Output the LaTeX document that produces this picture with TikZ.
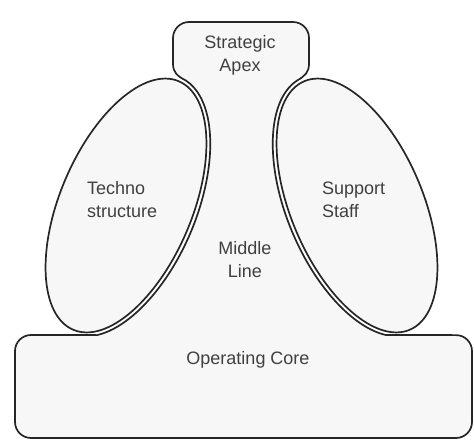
\documentclass[tikz,border=0pt]{standalone}
\usepackage{fontspec}
\setmainfont{Liberation Sans}
\tikzstyle{part} = [draw=black!85, line width=1.7pt, fill=black!3]
\tikzstyle{lbl} = [font={\fontsize{18}{23}\selectfont}, text=black!75, align=left, inner sep=0pt]

\begin{document}
\begin{tikzpicture}[x=1pt,y=1pt]
  \useasboundingbox (0,0) rectangle (474,440);
  % core, middle line and apex as one outline
  \draw[part] (15,89) arc[start angle=180,end angle=90,radius=16] -- (97,104.9)
    {[rotate=-23] arc[start angle=-70,end angle=85,x radius=70,y radius=139]}
    .. controls (177,364) and (173,368) .. (173,376) -- (173,402)
    arc[start angle=180,end angle=90,radius=16] -- (293,418)
    arc[start angle=90,end angle=0,radius=16] -- (309,376)
    .. controls (309,368) and (305,364) .. (297.3,359.6)
    {[rotate=23] arc[start angle=95,end angle=250,x radius=70,y radius=139]}
    -- (456,104.9) arc[start angle=90,end angle=0,radius=16] -- (472,18)
    arc[start angle=0,end angle=-90,radius=16] -- (31,2)
    arc[start angle=270,end angle=180,radius=16] -- cycle;
  % the two staff units
  \draw[part, rotate around={-23:(126,234.5)}] (126,234.5) ellipse[x radius=66,y radius=135];
  \draw[part, rotate around={23:(357,234.5)}] (357,234.5) ellipse[x radius=66,y radius=135];
  \node[lbl, align=center] (apex) at (240,385) {Strategic\\Apex};
  \node[lbl, anchor=west] (techno) at (87,240) {Techno\\structure};
  \node[lbl, anchor=west] (support) at (322,240) {Support\\Staff};
  \node[lbl, align=center] (middle) at (245,180) {Middle\\Line};
  \node[lbl] (core) at (248,80) {Operating Core};
\end{tikzpicture}
\end{document}
